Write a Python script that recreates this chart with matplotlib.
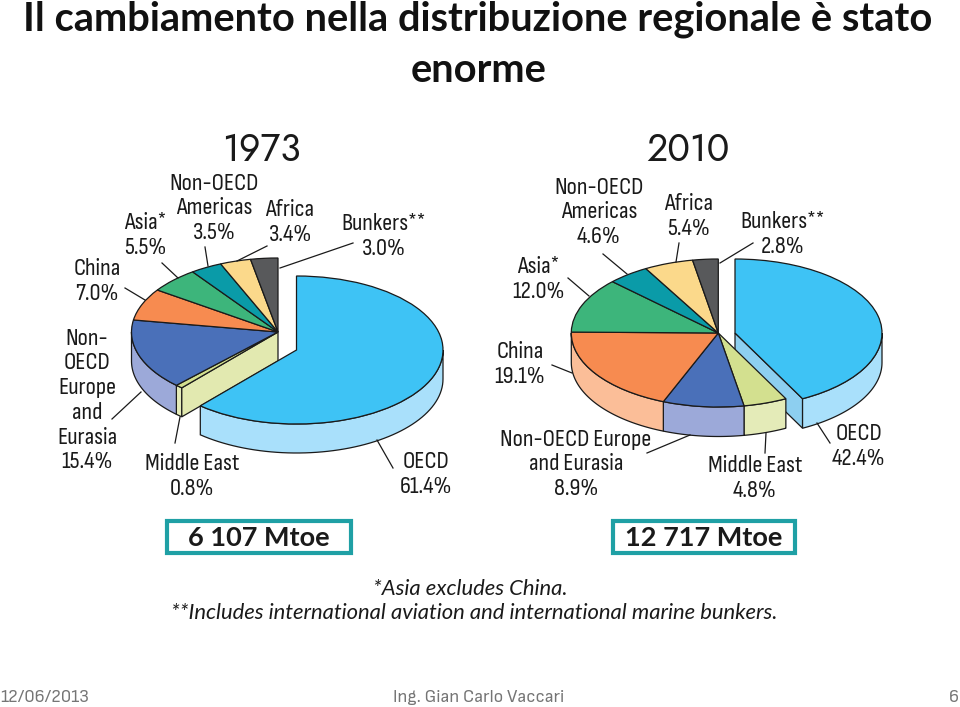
import matplotlib
matplotlib.use("Agg")
import matplotlib.pyplot as plt
import numpy as np
from matplotlib.patches import Rectangle

W, H = 960, 707

sectors = ["OECD", "Middle East", "Non-OECD Europe and Eurasia", "China",
           "Asia", "Non-OECD Americas", "Africa", "Bunkers"]
shares_1973 = [61.4, 0.8, 15.4, 7.0, 5.5, 3.5, 3.4, 3.0]
shares_2010 = [42.4, 4.8, 8.9, 19.1, 12.0, 4.6, 5.4, 2.8]
total_1973 = "6 107 Mtoe"
total_2010 = "12 717 Mtoe"

top_colors = ["#3EC3F5", "#D3E08F", "#4A70B9", "#F78B50",
              "#3DB57B", "#0A9BA8", "#FBD98B", "#58595B"]
wall_colors = ["#A9E0FB", "#E4EBB8", "#9CA9D9", "#FBBE98",
               "#3DB57B", "#0A9BA8", "#FBD98B", "#58595B"]
cut_1973 = "#E2E9B0"
cut_2010 = "#8DCFF0"

labels_1973 = [
    ("OECD\n61.4%", 426, 474), ("Middle East\n0.8%", 192, 476),
    ("Non-\nOECD\nEurope\nand\nEurasia\n15.4%", 87, 400), ("China\n7.0%", 97, 281),
    ("Asia*\n5.5%", 145, 235), ("Non-OECD\nAmericas\n3.5%", 214, 208),
    ("Africa\n3.4%", 290, 222), ("Bunkers**\n3.0%", 384, 236),
]
labels_2010 = [
    ("OECD\n42.4%", 859, 446), ("Middle East\n4.8%", 755, 478),
    ("Non-OECD Europe\nand Eurasia\n8.9%", 576, 464), ("China\n19.1%", 520, 364),
    ("Asia*\n12.0%", 538, 279), ("Non-OECD\nAmericas\n4.6%", 599, 212),
    ("Africa\n5.4%", 689, 216), ("Bunkers**\n2.8%", 783, 234),
]
leaders = [
    ((353, 243), (280, 268)), ((267, 246), (237, 261)), ((205, 247), (208, 266)),
    ((162, 263), (178, 278)), ((125, 288), (145, 300)), ((112, 419), (141, 392)),
    ((175, 443), (180, 417)), ((393, 468), (377, 440)),
    ((753, 243), (720, 263)), ((679, 243), (676, 262)), ((603, 254), (627, 274)),
    ((568, 278), (589, 296)), ((552, 365), (572, 373)), ((647, 453), (690, 435)),
    ((765, 453), (766, 433)), ((830, 443), (817, 423)),
]

INK = "#1A1A1A"
FOOT = "#757575"
CHART_FONT = ["Sofia Sans Condensed", "Archivo Narrow", "Lato"]
FOOT_FONT = ["Sofia Sans Semi Condensed", "Lato"]
HEAD_FONT = ["Jost", "Lato"]


def wall(ax, cx, cy, a0, a1, depth, color, z):
    # only the front half of the rim shows
    a0, a1 = max(a0, 90), min(a1, 270)
    if a1 <= a0:
        return
    t = np.radians(np.linspace(a0, a1, 60))
    x = cx + np.sin(t)
    y = cy + np.cos(t)
    ax.fill(np.r_[x, x[::-1]], np.r_[y, y[::-1] - depth], facecolor=color,
            edgecolor=INK, linewidth=0.9, zorder=z)


def cut_face(ax, cx, cy, angle, depth, color, z):
    t = np.radians(angle)
    x = [cx, cx + np.sin(t), cx + np.sin(t), cx]
    y = [cy, cy + np.cos(t), cy + np.cos(t) - depth, cy - depth]
    ax.fill(x, y, facecolor=color, edgecolor=INK, linewidth=0.9, zorder=z)


def draw_pie(fig, shares, center, offset, rx, ry, depth_px, cut_color, cut_on_main):
    cx, cy = center
    ax = fig.add_axes([0, 0, 1, 1])
    wedges, _ = ax.pie(shares, colors=top_colors, startangle=90, counterclock=False,
                       wedgeprops=dict(edgecolor=INK, linewidth=0.9))
    ax.set_aspect("auto")
    ax.set_xlim(-cx / rx, (W - cx) / rx)
    ax.set_ylim((cy - H) / ry, cy / ry)

    depth = depth_px / ry
    dx, dy = offset[0] / rx, -offset[1] / ry
    edges = np.cumsum(np.r_[0, shares]) * 3.6

    for i in range(1, len(shares)):
        wall(ax, 0, 0, edges[i], edges[i + 1], depth, wall_colors[i], 1)
        wedges[i].set_zorder(2)

    if cut_on_main:
        cut_face(ax, 0, 0, edges[1], depth, cut_color, 1.5)
    else:
        # sits behind the main body, only its upper part shows
        cut_face(ax, dx, dy, edges[1], depth, cut_color, 0.5)

    # OECD slice is pulled away from the rest
    wall(ax, dx, dy, edges[0], edges[1], depth, wall_colors[0], 3)
    wedges[0].set_center((dx, dy))
    wedges[0].set_zorder(4)


fig = plt.figure(figsize=(W / 100, H / 100), dpi=100, facecolor="white")

draw_pie(fig, shares_1973, (278, 332), (18.5, 18), 146.5, 74, 29, cut_1973, True)
draw_pie(fig, shares_2010, (718.3, 333), (16.7, 0), 147, 74, 29.5, cut_2010, False)

ax = fig.add_axes([0, 0, 1, 1], facecolor="none")
ax.set_xlim(0, W)
ax.set_ylim(H, 0)
ax.axis("off")

ax.text(478, 31, "Il cambiamento nella distribuzione regionale è stato", ha="center",
        va="baseline", family="Lato", weight="bold", fontsize=28.7, color="#111111")
ax.text(479, 82, "enorme", ha="center", va="baseline", family="Lato", weight="bold",
        fontsize=28.7, color="#111111")

ax.text(261, 150, "1973", ha="center", va="center", family=HEAD_FONT, fontsize=27, color=INK)
ax.text(688, 150, "2010", ha="center", va="center", family=HEAD_FONT, fontsize=27, color=INK)

for text, x, y in labels_1973 + labels_2010:
    ax.text(x, y, text, ha="center", va="center", family=CHART_FONT, fontsize=17.8,
            color=INK, linespacing=1.22)

for start, end in leaders:
    ax.plot([start[0], end[0]], [start[1], end[1]], color=INK, linewidth=0.9)

for x0, x1, total in [(165, 353, total_1973), (611, 797, total_2010)]:
    ax.add_patch(Rectangle((x0 + 2, 521), x1 - x0 - 4, 32, facecolor="white",
                           edgecolor="#1FA0A5", linewidth=3))
    ax.text((x0 + x1) / 2, 538, total, ha="center", va="center", family="Lato",
            weight="bold", fontsize=19.5, color=INK)

ax.text(470, 589, "*Asia excludes China.", ha="center", va="center", family="Lato",
        style="italic", fontsize=15.8, color=INK)
ax.text(474, 613, "**Includes international aviation and international marine bunkers.",
        ha="center", va="center", family="Lato", style="italic", fontsize=15.8, color=INK)

ax.text(0, 702, "12/06/2013", ha="left", va="baseline", family=FOOT_FONT, fontsize=13.5, color=FOOT)
ax.text(479, 702, "Ing. Gian Carlo Vaccari", ha="center", va="baseline", family=FOOT_FONT,
        fontsize=13.5, color=FOOT)
ax.text(959, 702, "6", ha="right", va="baseline", family=FOOT_FONT, fontsize=13.5, color=FOOT)

fig.savefig("out.png", dpi=100)
